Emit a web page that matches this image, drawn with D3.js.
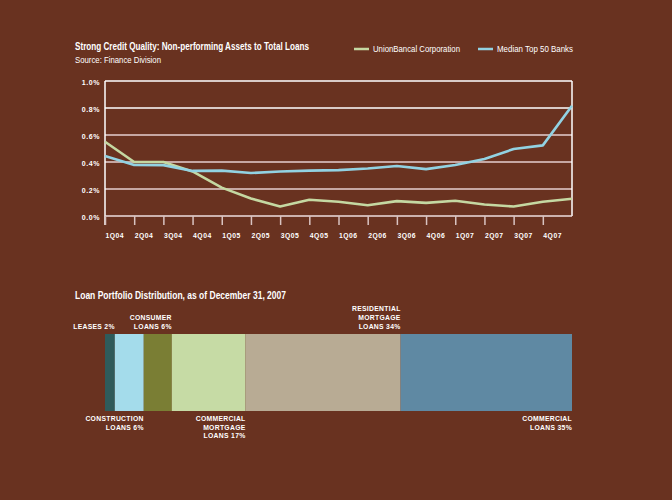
<!DOCTYPE html>
<html><head><meta charset="utf-8">
<script src="https://cdn.jsdelivr.net/npm/d3@7"></script>
<style>html,body{margin:0;padding:0;background:#693220;}svg{display:block;}</style>
</head><body>
<script>
// ---- Data ----
const quarterLabels = ["1Q04","2Q04","3Q04","4Q04","1Q05","2Q05","3Q05","4Q05","1Q06","2Q06","3Q06","4Q06","1Q07","2Q07","3Q07","4Q07"];
const unionBancal = [0.55,0.40,0.40,0.33,0.21,0.13,0.07,0.12,0.105,0.08,0.11,0.097,0.113,0.085,0.07,0.106,0.128];
const medianTop50 = [0.444,0.378,0.377,0.334,0.336,0.318,0.33,0.336,0.34,0.352,0.37,0.347,0.378,0.422,0.496,0.523,0.817];
const yTicks = [0,0.2,0.4,0.6,0.8,1.0];
const seriesNames = ["UnionBancal Corporation","Median Top 50 Banks"];

const loanTypes = ["Leases","Construction Loans","Consumer Loans","Commercial Mortgage Loans","Residential Mortgage Loans","Commercial Loans"];
const loanShares = [2.1,6.2,6.0,15.8,33.2,36.7];
const loanLabels = [["LEASES 2%"],["CONSTRUCTION","LOANS 6%"],["CONSUMER","LOANS 6%"],["COMMERCIAL","MORTGAGE","LOANS 17%"],["RESIDENTIAL","MORTGAGE","LOANS 34%"],["COMMERCIAL","LOANS 35%"]];
const loanLabelSide = ["top","bottom","top","bottom","top","bottom"];

// ---- Styles ----
const W=672,H=500;
const bg="#693220";
const lineColors=["#c5d8a2","#92d2e2"];
const barColors=["#2e5b5b","#a4dceb","#7a7e34","#c6dba5","#b8ab94","#5f89a3"];
const font="'Liberation Sans', Arial, sans-serif";

const svg=d3.select("body").append("svg").attr("width",W).attr("height",H);
svg.append("rect").attr("width",W).attr("height",H).attr("fill",bg);

// ---- Line chart ----
const x0=105,x1=572,yTop=81,yBot=216;
const x=d3.scaleLinear().domain([0,unionBancal.length-1]).range([x0,x1]);
const y=d3.scaleLinear().domain([0,1.0]).range([yBot,yTop]);

svg.append("text").attr("x",75).attr("y",50).attr("fill","#fff")
  .attr("font-family",font).attr("font-weight","bold").attr("font-size",10.5)
  .attr("textLength",234).attr("lengthAdjust","spacingAndGlyphs")
  .text("Strong Credit Quality: Non-performing Assets to Total Loans");
svg.append("text").attr("x",75).attr("y",63).attr("fill","#fff")
  .attr("font-family",font).attr("font-size",9)
  .attr("textLength",86).attr("lengthAdjust","spacingAndGlyphs")
  .text("Source: Finance Division");

// legend
const legX=[354,478], legW=[87,76];
seriesNames.forEach((n,i)=>{
  svg.append("line").attr("x1",legX[i]).attr("x2",legX[i]+15).attr("y1",49).attr("y2",49)
    .attr("stroke",lineColors[i]).attr("stroke-width",2.5);
  svg.append("text").attr("x",legX[i]+19).attr("y",52).attr("fill","#fff")
    .attr("font-family",font).attr("font-size",9)
    .attr("textLength",legW[i]).attr("lengthAdjust","spacingAndGlyphs").text(n);
});

// gridlines
yTicks.forEach(t=>{
  if(t===0) return;
  svg.append("line").attr("x1",x0).attr("x2",x1).attr("y1",y(t)).attr("y2",y(t))
    .attr("stroke",t>=0.8?"#ffffff":"#e6cfcf").attr("stroke-width",1.4);
});
// y axis via d3
const yAxis=svg.append("g").attr("transform",`translate(${x0},0)`)
  .call(d3.axisLeft(y).tickValues(yTicks).tickSize(0).tickPadding(5).tickFormat(d=>d.toFixed(1)+"%"));
yAxis.select(".domain").remove();
yAxis.selectAll("text").attr("fill","#fff").attr("font-family",font).attr("font-weight","bold")
  .attr("font-size",7).attr("letter-spacing",0.6).attr("dy","0.45em");

// frame
svg.append("line").attr("x1",x0).attr("x2",x0).attr("y1",yTop).attr("y2",yBot+9).attr("stroke","#fff").attr("stroke-width",1.5);
svg.append("line").attr("x1",x1).attr("x2",x1).attr("y1",yTop).attr("y2",yBot).attr("stroke","#fff").attr("stroke-width",1.5);
svg.append("line").attr("x1",x0).attr("x2",x1).attr("y1",yBot).attr("y2",yBot).attr("stroke","#eedede").attr("stroke-width",1.4);

// x axis
const xAxis=svg.append("g").attr("transform",`translate(0,${yBot})`)
  .call(d3.axisBottom(x).tickValues(d3.range(quarterLabels.length)).tickSize(9).tickPadding(8)
    .tickFormat(i=>quarterLabels[i]));
xAxis.select(".domain").remove();
xAxis.selectAll("line").attr("stroke","#d9c3c0").attr("stroke-width",1.5);
xAxis.selectAll("text").attr("fill","#fff").attr("font-family",font).attr("font-weight","bold")
  .attr("font-size",6.8).attr("letter-spacing",0.5).attr("text-anchor","start").attr("dx",0);

// lines
const lineGen=d3.line().x((d,i)=>x(i)).y(d=>y(d));
[unionBancal,medianTop50].forEach((s,i)=>{
  svg.append("path").datum(s).attr("d",lineGen).attr("fill","none")
    .attr("stroke",lineColors[i]).attr("stroke-width",2.6).attr("stroke-linejoin","round");
});

// ---- Bar chart ----
svg.append("text").attr("x",75).attr("y",299).attr("fill","#fff")
  .attr("font-family",font).attr("font-weight","bold").attr("font-size",10.5)
  .attr("textLength",211).attr("lengthAdjust","spacingAndGlyphs")
  .text("Loan Portfolio Distribution, as of December 31, 2007");

const total=d3.sum(loanShares);
const bx=d3.scaleLinear().domain([0,total]).range([x0,x1]);
const barTop=334,barBot=411;
let cum=0;
const segs=loanShares.map((v,i)=>{const s={i,start:cum,end:cum+v};cum+=v;return s;});
svg.selectAll("rect.seg").data(segs).join("rect").attr("class","seg")
  .attr("x",d=>bx(d.start)).attr("width",d=>bx(d.end)-bx(d.start))
  .attr("y",barTop).attr("height",barBot-barTop).attr("fill",d=>barColors[d.i]);

segs.forEach(d=>{
  const lines=loanLabels[d.i];
  const xr=bx(d.end);
  const lh=9;
  lines.forEach((t,k)=>{
    let yy;
    if(loanLabelSide[d.i]==="top") yy=329-(lines.length-1-k)*lh;
    else yy=421+k*8.5;
    svg.append("text").attr("x",xr).attr("y",yy).attr("text-anchor","end")
      .attr("fill","#fff").attr("font-family",font).attr("font-weight","bold")
      .attr("font-size",6.8).attr("letter-spacing",0.3).text(t);
  });
});
</script>
</body></html>
